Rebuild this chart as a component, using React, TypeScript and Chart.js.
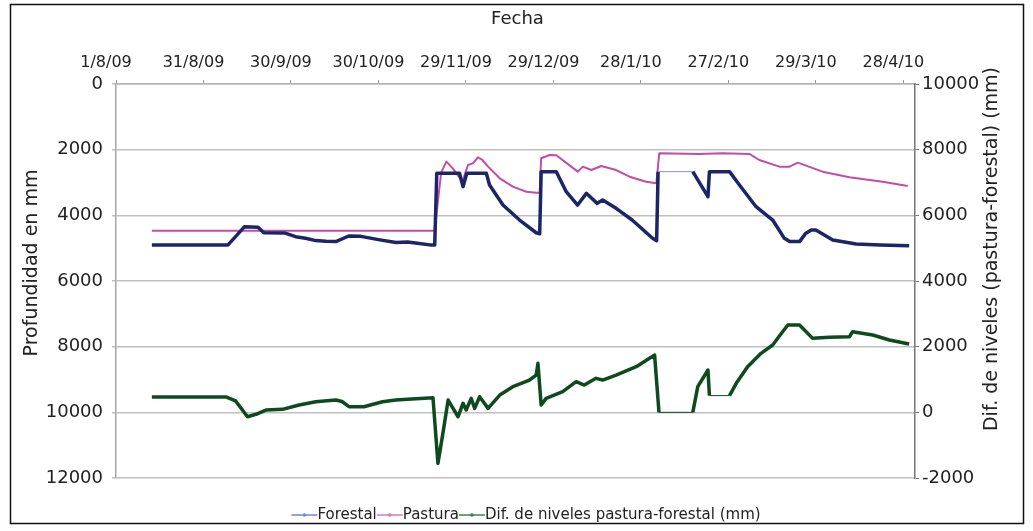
import React, { useEffect, useRef } from 'react';
import { Chart, registerables } from 'chart.js';

Chart.register(...registerables);

// ---- Axis ticks / labels ----
const xTickDays = [0, 30, 60, 90, 120, 150, 180, 210, 240, 270];
const xTickLabels = ['1/8/09', '31/8/09', '30/9/09', '30/10/09', '29/11/09', '29/12/09', '28/1/10', '27/2/10', '29/3/10', '28/4/10'];
const leftTicks = [0, 2000, 4000, 6000, 8000, 10000, 12000];
const rightTicks = [-2000, 0, 2000, 4000, 6000, 8000, 10000];

const xTitle = 'Fecha';
const leftTitle = 'Profundidad en mm';
const rightTitle = 'Dif. de niveles (pastura-forestal) (mm)';

// ---- Series (x = days since 1/8/09) ----
const forestalLabel = 'Forestal';
const forestalDays = [12.3, 38.4, 41, 44, 48.7, 50.7, 58, 61.6, 65, 68.5, 72, 75.4, 79.8, 84, 90, 96, 100, 104, 107.6, 109.3, 110, 117.8, 119, 120.3, 127, 128.1, 132.7, 138.4, 144.1, 145.3, 145.8, 151, 154.4, 158.3, 161.3, 165, 166.9, 171.5, 177, 184, 185.4, 185.9, 197.8, 203, 203.5, 206, 210.4, 213.8, 219.5, 225.2, 229.2, 231, 234.4, 236.5, 238.4, 240, 245.8, 253.8, 262, 272];
const forestalValues = [4900, 4900, 4650, 4350, 4360, 4530, 4540, 4650, 4700, 4770, 4790, 4800, 4630, 4640, 4740, 4830, 4810, 4860, 4900, 4900, 2720, 2720, 3127, 2720, 2720, 3077, 3686, 4143, 4530, 4560, 2670, 2670, 3280, 3686, 3330, 3635, 3534, 3787, 4143, 4700, 4770, 2670, 2670, 3432, 2670, 2670, 2670, 3077, 3737, 4143, 4700, 4800, 4800, 4550, 4447, 4450, 4750, 4874, 4900, 4925];
const forestalGapStarts = [185.9];

const pasturaLabel = 'Pastura';
const pasturaDays = [12.3, 109.2, 110.3, 111.5, 113.3, 115.5, 118.8, 120.7, 122.4, 124.1, 125.5, 127.6, 131.6, 136.1, 140.7, 144.1, 145.3, 145.8, 148.7, 151, 156.1, 158.4, 160.1, 163, 166.4, 171.5, 176.1, 181.8, 185.3, 186.3, 200, 208, 217.2, 220.6, 227.5, 231, 233.8, 242.3, 251.5, 262.9, 271.5];
const pasturaValues = [4470, 4470, 3640, 2700, 2365, 2570, 2975, 2467, 2416, 2233, 2300, 2517, 2872, 3127, 3280, 3310, 3310, 2263, 2162, 2170, 2517, 2670, 2517, 2620, 2497, 2620, 2823, 2975, 3025, 2110, 2130, 2110, 2130, 2315, 2517, 2517, 2395, 2670, 2842, 2975, 3107];

const difLabel = 'Dif. de niveles pastura-forestal (mm)';
const difDays = [12.3, 37.7, 41, 45.1, 48, 51.4, 57.1, 62.8, 68.5, 75.4, 77.5, 79.9, 85, 91.4, 96, 100, 108.7, 110.4, 112.1, 113.9, 117.3, 119, 120.1, 121.8, 123, 124.7, 127.6, 131.6, 136.1, 141.8, 144.1, 144.7, 145.8, 147.5, 153.2, 157.8, 160.6, 164.6, 166.9, 171.5, 178.4, 184.7, 186.2, 197.8, 199.5, 203, 203.5, 210.4, 212.7, 216.6, 221.2, 225.2, 228.6, 230.4, 234.4, 238.9, 244.6, 251.5, 252.6, 259.5, 265.2, 272];
const difValues = [470, 470, 350, -133, -60, 70, 91, 222, 324, 375, 330, 171, 171, 324, 375, 400, 446, -1554, -640, 375, -134, 273, 70, 426, 121, 476, 121, 527, 781, 984, 1136, 1493, 222, 426, 629, 934, 832, 1035, 984, 1136, 1390, 1746, 0, 0, 781, 1289, 509, 509, 883, 1391, 1797, 2050, 2455, 2659, 2659, 2253, 2284, 2304, 2455, 2355, 2202, 2080];
const difGapStarts = [186.2, 203.5];

const FONT = '"DejaVu Sans", "Liberation Sans", Arial, sans-serif';

function toPoints(days: number[], values: number[]) {
  return days.map((d, i) => ({ x: d, y: values[i] }));
}

const decorPlugin = {
  id: 'decor',
  afterDraw(chart: any) {
    const ctx = chart.ctx as CanvasRenderingContext2D;
    const ca = chart.chartArea;
    ctx.save();
    // outer frame
    ctx.strokeStyle = '#111';
    ctx.lineWidth = 1.5;
    ctx.strokeRect(10.5, 4.5, 1013, 519);

    ctx.fillStyle = '#222';
    ctx.textBaseline = 'middle';
    ctx.textAlign = 'center';
    // top title
    ctx.font = `18px ${FONT}`;
    ctx.fillText(xTitle, (ca.left + ca.right) / 2 + 2, 19);
    // left title
    ctx.save();
    ctx.font = `19px ${FONT}`;
    ctx.translate(32, 263);
    ctx.rotate(-Math.PI / 2);
    ctx.fillText(leftTitle, 0, 0);
    ctx.restore();
    // right title
    ctx.save();
    ctx.font = `19px ${FONT}`;
    ctx.translate(992, 249);
    ctx.rotate(-Math.PI / 2);
    ctx.fillText(rightTitle, 0, 0);
    ctx.restore();

    // legend
    ctx.font = `15px ${FONT}`;
    ctx.textAlign = 'left';
    const seg = 26;
    const items = chart.data.datasets.map((d: any) => ({ label: d.label, color: d.legendColor }));
    const total = items.reduce((s: number, it: any) => s + seg + ctx.measureText(it.label).width, 0);
    let x = 526 - total / 2;
    const y = 515;
    for (const it of items) {
      ctx.strokeStyle = it.color;
      ctx.lineWidth = 1.5;
      ctx.beginPath();
      ctx.moveTo(x, y);
      ctx.lineTo(x + seg, y);
      ctx.stroke();
      ctx.fillStyle = it.color;
      ctx.beginPath();
      ctx.arc(x + seg / 2, y, 1.8, 0, Math.PI * 2);
      ctx.fill();
      x += seg;
      ctx.fillStyle = '#222';
      ctx.fillText(it.label, x, y);
      x += ctx.measureText(it.label).width;
    }
    ctx.restore();
  },
};

export default function App() {
  const ref = useRef<HTMLCanvasElement>(null);

  useEffect(() => {
    const canvas = ref.current!;
    const chart = new Chart(canvas, {
      type: 'line',
      data: {
        datasets: [
          {
            label: forestalLabel,
            data: toPoints(forestalDays, forestalValues),
            yAxisID: 'y',
            borderColor: '#1c2566',
            legendColor: '#7886d0',
            borderWidth: 3.5,
            pointRadius: 0,
            tension: 0,
            borderJoinStyle: 'round',
            segment: {
              borderWidth: (c: any) => (forestalGapStarts.includes(c.p0.parsed.x) ? 1 : 3.5),
              borderColor: (c: any) => (forestalGapStarts.includes(c.p0.parsed.x) ? '#8090d8' : '#1c2566'),
            },
          } as any,
          {
            label: pasturaLabel,
            data: toPoints(pasturaDays, pasturaValues),
            yAxisID: 'y',
            borderColor: '#c24da8',
            legendColor: '#d77ab8',
            borderWidth: 2,
            pointRadius: 0,
            tension: 0,
            borderJoinStyle: 'round',
          } as any,
          {
            label: difLabel,
            data: toPoints(difDays, difValues),
            yAxisID: 'y2',
            borderColor: '#0f4a1e',
            legendColor: '#4a7a55',
            borderWidth: 3.5,
            pointRadius: 0,
            tension: 0,
            borderJoinStyle: 'round',
            segment: {
              borderWidth: (c: any) => (difGapStarts.includes(c.p0.parsed.x) ? 1 : 3.5),
            },
          } as any,
        ],
      },
      options: {
        animation: false,
        responsive: false,
        devicePixelRatio: 1,
        layout: { padding: { left: 0, right: 0, top: 0, bottom: 53 } },
        plugins: { legend: { display: false }, tooltip: { enabled: false } },
        scales: {
          x: {
            type: 'linear',
            position: 'top',
            min: 0,
            max: 274,
            afterBuildTicks: (s: any) => {
              s.ticks = xTickDays.map((v) => ({ value: v }));
            },
            afterFit: (s: any) => {
              s.height = 84;
            },
            ticks: {
              autoSkip: false,
              maxRotation: 0,
              padding: 8,
              labelOffset: -10,
              color: '#222',
              font: { family: FONT, size: 16 },
              callback: (_v: any, i: number) => xTickLabels[i],
            },
            grid: { drawOnChartArea: false, drawTicks: true, tickLength: 4, color: '#9a9a9a', lineWidth: 1 },
            border: { display: true, color: '#b4b4b4', width: 1.5 },
          },
          y: {
            type: 'linear',
            position: 'left',
            reverse: true,
            min: 0,
            max: 12000,
            afterBuildTicks: (s: any) => {
              s.ticks = leftTicks.map((v) => ({ value: v }));
            },
            afterFit: (s: any) => {
              s.width = 116;
            },
            ticks: {
              padding: 9,
              color: '#222',
              font: { family: FONT, size: 18 },
              callback: (v: any) => String(v),
            },
            grid: { color: '#c0c0c0', lineWidth: 1.5, tickLength: 4, drawTicks: true },
            border: { display: true, color: '#a8a8a8', width: 1.5 },
          },
          y2: {
            type: 'linear',
            position: 'right',
            min: -2000,
            max: 10000,
            afterBuildTicks: (s: any) => {
              s.ticks = rightTicks.map((v) => ({ value: v }));
            },
            afterFit: (s: any) => {
              s.width = 118;
            },
            ticks: {
              padding: 3,
              color: '#222',
              font: { family: FONT, size: 18 },
              callback: (v: any) => String(v),
            },
            grid: { drawOnChartArea: false, drawTicks: true, tickLength: 4, color: '#777', lineWidth: 1 },
            border: { display: true, color: '#777', width: 1.5 },
          },
        },
      },
      plugins: [decorPlugin],
    });
    return () => chart.destroy();
  }, []);

  return (
    <div style={{ position: 'fixed', left: 0, top: 0, width: 1033, height: 531, background: '#fff' }}>
      <canvas ref={ref} width={1033} height={531} style={{ display: 'block', width: 1033, height: 531 }} />
    </div>
  );
}
